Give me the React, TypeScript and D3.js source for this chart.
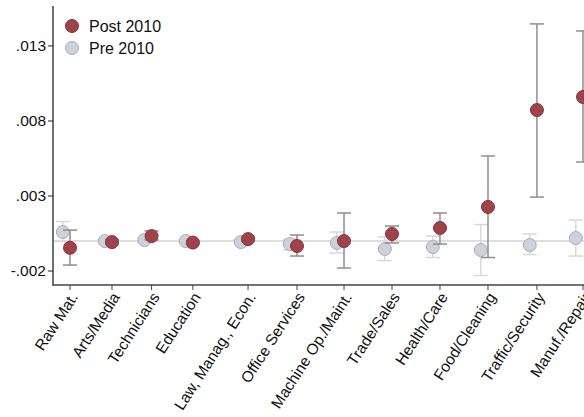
import React from "react";
import * as d3 from "d3";

const categories = [
  "Raw Mat.", "Arts/Media", "Technicians", "Education", "Law, Manag., Econ.",
  "Office Services", "Machine Op./Maint.", "Trade/Sales", "Health/Care",
  "Food/Cleaning", "Traffic/Security", "Manuf./Repair",
];
// category slot positions along the x axis (uneven spacing as in the original)
const catSlot = [0, 0.875, 1.7, 2.56, 3.71, 4.73, 5.71, 6.71, 7.71, 8.71, 9.73, 10.69];

const postEst = [-0.00045, -0.00007, 0.00033, -0.0001, 0.00013, -0.00033, 0.0, 0.00047, 0.00087, 0.00227, 0.00873, 0.0096];
const postLo = [-0.0016, -0.0002, 0.00007, -0.0002, 0.0, -0.001, -0.0018, -0.00013, -0.0002, -0.0011, 0.00293, 0.00527];
const postHi = [0.00073, 0.0001, 0.00067, 0.0, 0.00027, 0.0004, 0.00187, 0.001, 0.00187, 0.00567, 0.01447, 0.014];

const preEst = [0.0006, 0.0, 0.00007, 0.0, -0.00007, -0.0002, -0.00013, -0.00053, -0.0004, -0.0006, -0.00027, 0.0002];
const preLo = [0.0, -0.0001, -0.0001, -0.0001, -0.0002, -0.0006, -0.0008, -0.0013, -0.0011, -0.0023, -0.0009, -0.001];
const preHi = [0.0013, 0.0001, 0.0002, 0.0001, 0.0001, 0.00013, 0.0006, 0.00027, 0.00033, 0.0011, 0.00047, 0.0014];

const yTicks = [-0.002, 0.003, 0.008, 0.013];
const yTickLabels = ["-.002", ".003", ".008", ".013"];
const seriesNames = ["Post 2010", "Pre 2010"];

const W = 584;
const H = 417;
const FONT = "'Liberation Sans', Arial, sans-serif";

export default function App() {
  const x = d3.scaleLinear().domain([0, 10.69]).range([70, 583]);
  const y = d3.scaleLinear().domain([-0.00293, 0.01573]).range([285, 5]);
  const preShift = -0.15;
  const cap = 7;

  const postFill = "#9e434b";
  const postStroke = "#88323c";
  const preFill = "#cdd1da";
  const preStroke = "#a9afbd";

  return (
    <svg width={W} height={H} style={{ position: "absolute", left: 0, top: 0, background: "#fff" }}>
      {/* zero line */}
      <line x1={53} x2={W} y1={y(0)} y2={y(0)} stroke="#dedede" strokeWidth={2} />

      {/* pre CIs */}
      {categories.map((c, i) => {
        const cx = x(catSlot[i] + preShift);
        return (
          <g key={"preci" + c} stroke="#d9d9d9" strokeWidth={1.5}>
            <line x1={cx} x2={cx} y1={y(preLo[i])} y2={y(preHi[i])} />
            <line x1={cx - cap} x2={cx + cap} y1={y(preLo[i])} y2={y(preLo[i])} />
            <line x1={cx - cap} x2={cx + cap} y1={y(preHi[i])} y2={y(preHi[i])} />
          </g>
        );
      })}
      {categories.map((c, i) => (
        <circle key={"pre" + c} cx={x(catSlot[i] + preShift)} cy={y(preEst[i])} r={6.5}
          fill={preFill} stroke={preStroke} strokeWidth={1} />
      ))}

      {/* post CIs */}
      {categories.map((c, i) => {
        const cx = x(catSlot[i]);
        return (
          <g key={"postci" + c} stroke="#8e8e8e" strokeWidth={1.5}>
            <line x1={cx} x2={cx} y1={y(postLo[i])} y2={y(postHi[i])} />
            <line x1={cx - cap} x2={cx + cap} y1={y(postLo[i])} y2={y(postLo[i])} />
            <line x1={cx - cap} x2={cx + cap} y1={y(postHi[i])} y2={y(postHi[i])} />
          </g>
        );
      })}
      {categories.map((c, i) => (
        <circle key={"post" + c} cx={x(catSlot[i])} cy={y(postEst[i])} r={6.5}
          fill={postFill} stroke={postStroke} strokeWidth={1} />
      ))}

      {/* axes */}
      <line x1={53} x2={53} y1={6} y2={285.5} stroke="#222" strokeWidth={1.3} />
      <line x1={52.5} x2={W} y1={285} y2={285} stroke="#444" strokeWidth={1.3} />
      {yTicks.map((t, i) => (
        <g key={"yt" + t}>
          <line x1={48} x2={53} y1={y(t)} y2={y(t)} stroke="#222" strokeWidth={1} />
          <text x={46} y={y(t)} dy="0.35em" textAnchor="end" fontFamily={FONT} fontSize={15.5} fill="#111">
            {yTickLabels[i]}
          </text>
        </g>
      ))}
      {categories.map((c, i) => {
        const tx = x(catSlot[i]);
        return (
          <g key={"xt" + c}>
            <line x1={tx} x2={tx} y1={285} y2={290} stroke="#444" strokeWidth={1} />
            <text transform={`translate(${tx + 4},${294}) rotate(-57)`} textAnchor="end" dy="0.35em"
              fontFamily={FONT} fontSize={15.5} fill="#111">
              {c}
            </text>
          </g>
        );
      })}

      {/* legend */}
      <circle cx={72} cy={26} r={6.5} fill={postFill} stroke={postStroke} />
      <text x={89} y={26} dy="0.35em" fontFamily={FONT} fontSize={16} fill="#111">{seriesNames[0]}</text>
      <circle cx={72} cy={48} r={6.5} fill={preFill} stroke={preStroke} />
      <text x={89} y={48} dy="0.35em" fontFamily={FONT} fontSize={16} fill="#111">{seriesNames[1]}</text>
    </svg>
  );
}
